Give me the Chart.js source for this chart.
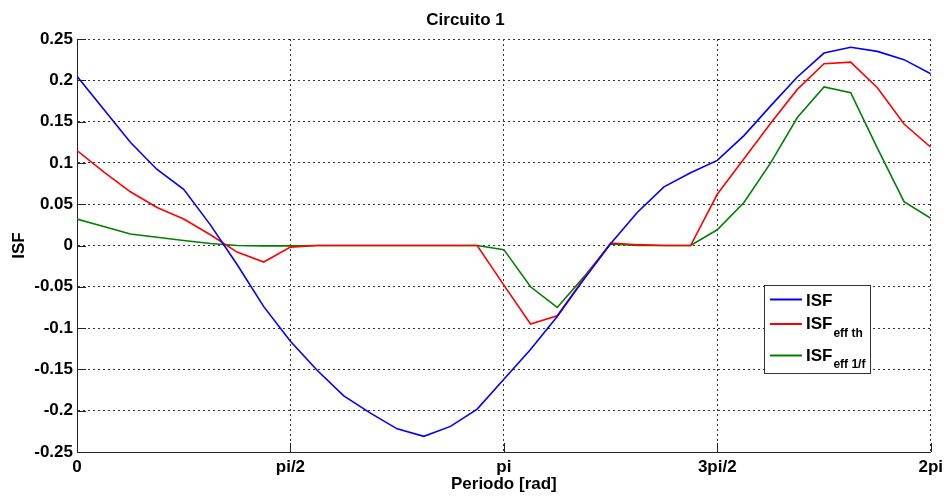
<!DOCTYPE html>
<html>
<head>
<meta charset="utf-8">
<script src="https://cdn.jsdelivr.net/npm/chart.js@4"></script>
<style>
  body { margin: 0; background: #fff; }
  #wrap { width: 948px; height: 498px; }
</style>
</head>
<body>
<div id="wrap"><canvas id="isfChart" width="948" height="498"></canvas></div>
<script>
// sampled phase: 33 points over one period, step pi/16
const steps = 33;
const tickLabels = ["0", "pi/2", "pi", "3pi/2", "2pi"];

const isf = [0.205, 0.165, 0.125, 0.092, 0.068, 0.025, -0.023, -0.074, -0.116, -0.151,
  -0.182, -0.203, -0.222, -0.231, -0.219, -0.198, -0.162, -0.126, -0.086, -0.041,
  0.002, 0.040, 0.071, 0.088, 0.103, 0.133, 0.169, 0.204, 0.233, 0.240,
  0.235, 0.225, 0.208];

const isfEffTh = [0.115, 0.089, 0.065, 0.046, 0.032, 0.013, -0.008, -0.020, -0.002, 0,
  0, 0, 0, 0, 0, 0, -0.048, -0.095, -0.085, -0.040,
  0.003, 0.001, 0, 0, 0.062, 0.105, 0.148, 0.189, 0.220, 0.222,
  0.191, 0.147, 0.119];

const isfEff1f = [0.032, 0.023, 0.014, 0.010, 0.006, 0.0025, 0, -0.0005, -0.0005, 0,
  0, 0, 0, 0, 0, 0, -0.005, -0.050, -0.075, -0.038,
  0.002, 0, 0, 0, 0.019, 0.052, 0.100, 0.155, 0.192, 0.185,
  0.118, 0.053, 0.033];

const phase = [];
for (let i = 0; i < steps; i++) phase.push(i * Math.PI / 16);

function toPoints(vals) {
  return vals.map((v, i) => ({ x: phase[i], y: v }));
}

const FONT = "'Liberation Sans', Arial, sans-serif";

const series = [
  { label: "ISF", sub: "", data: isf, color: "#0000ff" },
  { label: "ISF", sub: "eff th", data: isfEffTh, color: "#ff0000" },
  { label: "ISF", sub: "eff 1/f", data: isfEff1f, color: "#008000" }
];

// MATLAB style inward tick marks + boxed legend with subscripts
const extras = {
  id: "extras",
  afterDraw(chart) {
    const ctx = chart.ctx;
    const a = chart.chartArea;
    const xs = chart.scales.x, ys = chart.scales.y;
    ctx.save();
    ctx.strokeStyle = "#222";
    ctx.lineWidth = 1;
    ctx.beginPath();
    xs.ticks.forEach(t => {
      const px = Math.round(xs.getPixelForValue(t.value)) + 0.5;
      ctx.moveTo(px, a.bottom);
      ctx.lineTo(px, a.bottom - 9);
    });
    ys.ticks.forEach(t => {
      const py = Math.round(ys.getPixelForValue(t.value)) + 0.5;
      ctx.moveTo(a.left, py);
      ctx.lineTo(a.left + 9, py);
    });
    ctx.stroke();

    // legend box
    const bx = 764.5, by = 285.5, bw = 106, bh = 88;
    ctx.fillStyle = "#fff";
    ctx.fillRect(bx, by, bw, bh);
    ctx.strokeStyle = "#333";
    ctx.strokeRect(bx, by, bw, bh);
    const lineY = [299.5, 324, 355.5];
    const baseY = [305.7, 329.3, 360.7];
    series.forEach((s, k) => {
      ctx.strokeStyle = s.color;
      ctx.lineWidth = 2;
      ctx.beginPath();
      ctx.moveTo(770, lineY[k]);
      ctx.lineTo(802, lineY[k]);
      ctx.stroke();
      ctx.fillStyle = "#000";
      ctx.textBaseline = "alphabetic";
      ctx.textAlign = "left";
      ctx.font = "bold 17px " + FONT;
      ctx.fillText(s.label, 806, baseY[k]);
      if (s.sub) {
        const w = ctx.measureText(s.label).width;
        ctx.font = "bold 12px " + FONT;
        ctx.fillText(s.sub, 806 + w + 1, baseY[k] + 7.5);
      }
    });
    ctx.restore();
  }
};

new Chart(document.getElementById("isfChart"), {
  type: "line",
  data: {
    datasets: series.map(s => ({
      label: s.label + (s.sub ? " " + s.sub : ""),
      data: toPoints(s.data),
      borderColor: s.color,
      borderWidth: 1.6,
      pointRadius: 0,
      tension: 0,
      fill: false
    }))
  },
  options: {
    responsive: false,
    animation: false,
    layout: { padding: { left: 0, right: 17, top: 0, bottom: 0 } },
    plugins: {
      legend: { display: false },
      tooltip: { enabled: false },
      title: {
        display: true,
        text: "Circuito 1",
        color: "#000",
        font: { family: FONT, size: 17, weight: "bold" },
        padding: { top: 10, bottom: 8.6 }
      }
    },
    scales: {
      x: {
        type: "linear",
        min: 0,
        max: 2 * Math.PI,
        afterBuildTicks: scale => {
          scale.ticks = tickLabels.map((l, k) => ({ value: k * Math.PI / 2 }));
        },
        afterFit: scale => { scale.height = 46; },
        ticks: {
          autoSkip: false,
          maxRotation: 0,
          padding: 5,
          color: "#000",
          font: { family: FONT, size: 17, weight: "bold" },
          callback: (v, i) => tickLabels[i]
        },
        grid: {
          color: "#333",
          lineWidth: 1,
          drawTicks: false
        },
        border: { display: true, color: "#222", width: 1, dash: [2, 3] },
        title: {
          display: true,
          text: "Periodo [rad]",
          color: "#000",
          font: { family: FONT, size: 17, weight: "bold" },
          padding: { top: 0, bottom: 3 }
        }
      },
      y: {
        min: -0.25,
        max: 0.25,
        afterFit: scale => { scale.width = 77; },
        ticks: {
          stepSize: 0.05,
          padding: 4,
          color: "#000",
          font: { family: FONT, size: 17, weight: "bold" },
          callback: v => String(Math.round(v * 100) / 100)
        },
        grid: {
          color: "#333",
          lineWidth: 1,
          drawTicks: false
        },
        border: { display: true, color: "#222", width: 1, dash: [2, 3] },
        title: {
          display: true,
          text: "ISF",
          color: "#000",
          font: { family: FONT, size: 17, weight: "bold" },
          padding: { top: 9, bottom: 0 }
        }
      }
    }
  },
  plugins: [extras]
});
</script>
</body>
</html>
